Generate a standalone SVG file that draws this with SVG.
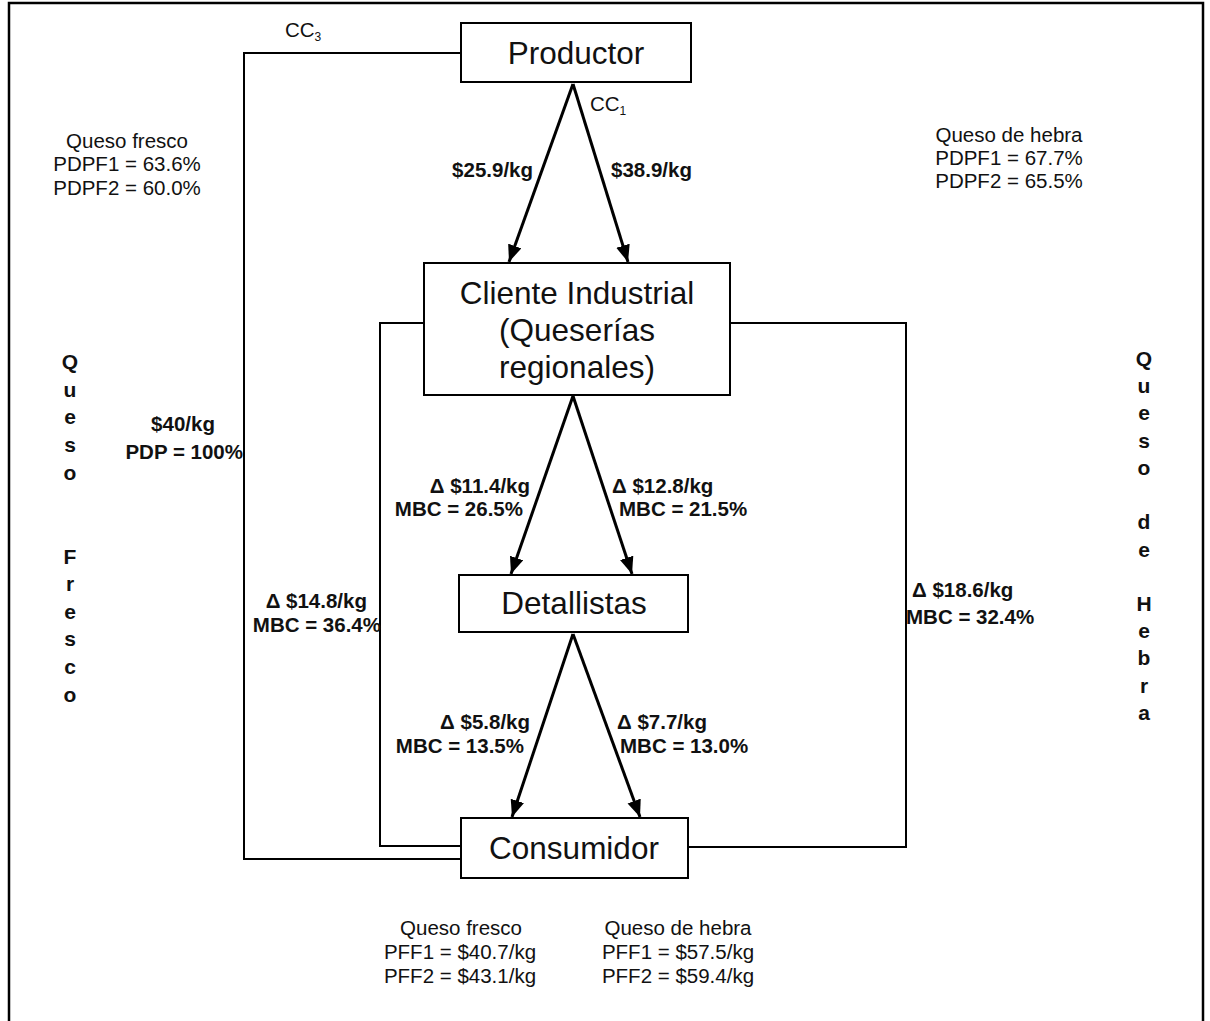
<svg xmlns="http://www.w3.org/2000/svg" width="1210" height="1021" viewBox="0 0 1210 1021">
<defs>
<style>
.box{fill:#fff;stroke:#000;stroke-width:2}
.line{fill:none;stroke:#000;stroke-width:2}
.arr{fill:none;stroke:#000;stroke-width:3;marker-end:url(#ah)}
.big{font-family:"Liberation Sans",Arial,sans-serif;font-size:31.5px;text-anchor:middle;fill:#111}
.reg{font-family:"Liberation Sans",Arial,sans-serif;font-size:20.5px;fill:#111}
.bold{font-family:"Liberation Sans",Arial,sans-serif;font-size:20.5px;font-weight:bold;fill:#111}
.vert{font-family:"Liberation Sans",Arial,sans-serif;font-size:21px;font-weight:bold;text-anchor:middle;fill:#111}
.mid{text-anchor:middle}
.end{text-anchor:end}
</style>
<marker id="ah" markerUnits="userSpaceOnUse" markerWidth="20" markerHeight="16" refX="17" refY="7" orient="auto">
<path d="M0,0 L17,7 L0,14 Z" fill="#000"/>
</marker>
</defs>
<rect width="1210" height="1021" fill="#fff"/>
<rect x="9" y="3" width="1194" height="1040" fill="none" stroke="#000" stroke-width="2.5"/>

<g id="connectors">
<path class="line" d="M461,53 H244 V859 H461"/>
<path class="line" d="M424,323 H380 V846 H461"/>
<path class="line" d="M730,323 H906 V847 H688"/>
<line class="arr" x1="573" y1="84" x2="509" y2="262"/>
<line class="arr" x1="573" y1="84" x2="628" y2="262"/>
<line class="arr" x1="573" y1="396" x2="511" y2="574"/>
<line class="arr" x1="573" y1="396" x2="632" y2="574"/>
<line class="arr" x1="573" y1="634" x2="512" y2="817"/>
<line class="arr" x1="573" y1="634" x2="640" y2="817"/>
</g>

<g id="productor">
<rect class="box" x="461" y="23" width="230" height="59"/>
<text class="big" x="576" y="64">Productor</text>
</g>
<g id="cliente">
<rect class="box" x="424" y="263" width="306" height="132"/>
<text class="big" x="577" y="304">Cliente Industrial</text>
<text class="big" x="577" y="341">(Queserías</text>
<text class="big" x="577" y="378">regionales)</text>
</g>
<g id="detallistas">
<rect class="box" x="459" y="575" width="229" height="57"/>
<text class="big" x="574" y="614">Detallistas</text>
</g>
<g id="consumidor">
<rect class="box" x="461" y="818" width="227" height="60"/>
<text class="big" x="574" y="859">Consumidor</text>
</g>

<g id="labels">
<text class="reg" x="285" y="37" font-size="18">CC<tspan font-size="12" dy="4">3</tspan></text>
<text class="reg" x="590" y="111" font-size="18">CC<tspan font-size="12" dy="4">1</tspan></text>

<text class="reg mid" x="127" y="148">Queso fresco</text>
<text class="reg mid" x="127" y="171">PDPF1 = 63.6%</text>
<text class="reg mid" x="127" y="195">PDPF2 = 60.0%</text>

<text class="reg mid" x="1009" y="142">Queso de hebra</text>
<text class="reg mid" x="1009" y="165">PDPF1 = 67.7%</text>
<text class="reg mid" x="1009" y="188">PDPF2 = 65.5%</text>

<text class="bold end" x="533" y="177">$25.9/kg</text>
<text class="bold" x="611" y="177">$38.9/kg</text>

<text class="bold mid" x="183" y="431">$40/kg</text>
<text class="bold end" x="243" y="459">PDP = 100%</text>

<text class="bold end" x="530" y="493">Δ $11.4/kg</text>
<text class="bold end" x="523" y="516">MBC = 26.5%</text>
<text class="bold" x="612" y="493">Δ $12.8/kg</text>
<text class="bold" x="619" y="516">MBC = 21.5%</text>

<text class="bold end" x="367" y="608">Δ $14.8/kg</text>
<text class="bold end" x="381" y="632">MBC = 36.4%</text>
<text class="bold" x="912" y="597">Δ $18.6/kg</text>
<text class="bold" x="906" y="624">MBC = 32.4%</text>

<text class="bold end" x="530" y="729">Δ $5.8/kg</text>
<text class="bold end" x="524" y="753">MBC = 13.5%</text>
<text class="bold" x="617" y="729">Δ $7.7/kg</text>
<text class="bold" x="620" y="753">MBC = 13.0%</text>

<text class="reg mid" x="461" y="935">Queso fresco</text>
<text class="reg mid" x="460" y="959">PFF1 = $40.7/kg</text>
<text class="reg mid" x="460" y="983">PFF2 = $43.1/kg</text>
<text class="reg mid" x="678" y="935">Queso de hebra</text>
<text class="reg mid" x="678" y="959">PFF1 = $57.5/kg</text>
<text class="reg mid" x="678" y="983">PFF2 = $59.4/kg</text>
</g>

<g id="vertical-left">
<text class="vert" x="70" y="369">Q</text>
<text class="vert" x="70" y="397">u</text>
<text class="vert" x="70" y="424">e</text>
<text class="vert" x="70" y="452">s</text>
<text class="vert" x="70" y="480">o</text>
<text class="vert" x="70" y="564">F</text>
<text class="vert" x="70" y="591">r</text>
<text class="vert" x="70" y="619">e</text>
<text class="vert" x="70" y="646">s</text>
<text class="vert" x="70" y="674">c</text>
<text class="vert" x="70" y="702">o</text>
</g>
<g id="vertical-right">
<text class="vert" x="1144" y="366">Q</text>
<text class="vert" x="1144" y="393">u</text>
<text class="vert" x="1144" y="420">e</text>
<text class="vert" x="1144" y="448">s</text>
<text class="vert" x="1144" y="475">o</text>
<text class="vert" x="1144" y="529">d</text>
<text class="vert" x="1144" y="557">e</text>
<text class="vert" x="1144" y="611">H</text>
<text class="vert" x="1144" y="638">e</text>
<text class="vert" x="1144" y="665">b</text>
<text class="vert" x="1144" y="693">r</text>
<text class="vert" x="1144" y="720">a</text>
</g>
</svg>
